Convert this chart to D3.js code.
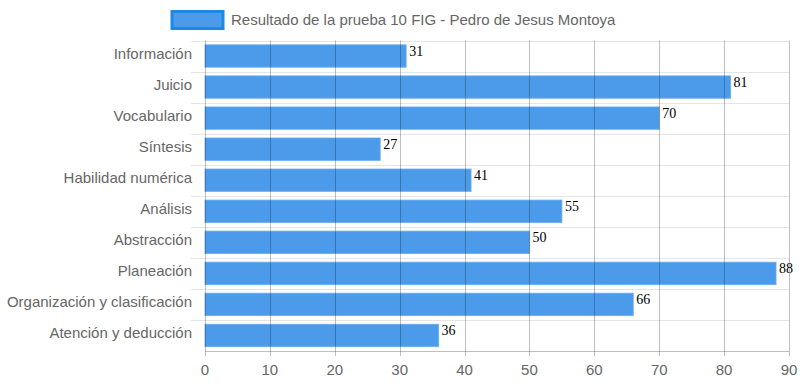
<!DOCTYPE html>
<html>
<head>
<meta charset="utf-8">
<script src="https://cdn.jsdelivr.net/npm/d3@7"></script>
<style>
  body { margin: 0; background: #fff; }
  svg { display: block; font-family: "Liberation Sans", Arial, Helvetica, sans-serif; }
</style>
</head>
<body>
<svg id="chart" width="800" height="386"></svg>
<script>
// values
const categories = ["Información", "Juicio", "Vocabulario", "Síntesis", "Habilidad numérica",
  "Análisis", "Abstracción", "Planeación", "Organización y clasificación", "Atención y deducción"];
const scores = [31, 81, 70, 27, 41, 55, 50, 88, 66, 36];
const xTicks = [0, 10, 20, 30, 40, 50, 60, 70, 80, 90];
const seriesName = "Resultado de la prueba 10 FIG - Pedro de Jesus Montoya";

const plotLeft = 205, plotRight = 789, plotTop = 40.5, plotBottom = 351;
const svg = d3.select("#chart");

const x = d3.scaleLinear().domain([0, 90]).range([plotLeft, plotRight]);
const y = d3.scaleBand().domain(categories).range([plotTop, plotBottom]);
const barH = y.bandwidth() * 0.72;

// horizontal grid (category boundaries)
const hLines = d3.range(categories.length).map(i => plotTop + i * y.step());
svg.append("g").selectAll("line")
  .data(hLines)
  .enter().append("line")
  .attr("x1", plotLeft - 14).attr("x2", plotRight)
  .attr("y1", d => Math.round(d) + 0.5).attr("y2", d => Math.round(d) + 0.5)
  .attr("stroke", "rgba(0,0,0,0.1)");

// bars
svg.append("g").selectAll("rect")
  .data(scores)
  .enter().append("rect")
  .attr("x", x(0))
  .attr("y", (d, i) => y(categories[i]) + (y.bandwidth() - barH) / 2)
  .attr("width", d => x(d) - x(0))
  .attr("height", barH)
  .attr("fill", "rgba(30,130,229,0.8)")
  .attr("stroke", "rgba(100,170,240,0.8)")
  .attr("stroke-width", 1);

// vertical grid
svg.append("g").selectAll("line")
  .data(xTicks)
  .enter().append("line")
  .attr("x1", d => Math.round(x(d)) + 0.5).attr("x2", d => Math.round(x(d)) + 0.5)
  .attr("y1", plotTop).attr("y2", plotBottom + 5)
  .attr("stroke", "rgba(0,0,0,0.25)");

// x axis line
svg.append("line")
  .attr("x1", plotLeft).attr("x2", plotRight)
  .attr("y1", plotBottom + 0.5).attr("y2", plotBottom + 0.5)
  .attr("stroke", "rgba(0,0,0,0.25)");

// x tick labels
svg.append("g").selectAll("text")
  .data(xTicks)
  .enter().append("text")
  .attr("x", d => x(d))
  .attr("y", 375)
  .attr("text-anchor", "middle")
  .attr("fill", "#666")
  .attr("font-size", 15)
  .text(d => d);

// category labels
svg.append("g").selectAll("text")
  .data(categories)
  .enter().append("text")
  .attr("x", 192)
  .attr("y", d => y(d) + y.bandwidth() / 2 + 3)
  .attr("text-anchor", "end")
  .attr("fill", "#666")
  .attr("font-size", 15)
  .text(d => d);

// value labels
svg.append("g").selectAll("text")
  .data(scores)
  .enter().append("text")
  .attr("x", d => x(d) + 3)
  .attr("y", (d, i) => y(categories[i]) + (y.bandwidth() - barH) / 2 + 11)
  .attr("fill", "#000")
  .attr("font-family", "'Liberation Serif', 'Times New Roman', serif")
  .attr("font-size", 14)
  .text(d => d);

// legend
const legend = svg.append("g");
legend.append("rect")
  .attr("x", 172).attr("y", 11.5).attr("width", 51).attr("height", 17)
  .attr("fill", "rgba(30,130,229,0.8)")
  .attr("stroke", "#1e88e5").attr("stroke-width", 3);
legend.append("text")
  .attr("x", 231).attr("y", 24.5)
  .attr("fill", "#666")
  .attr("font-size", 15)
  .text(seriesName);
</script>
</body>
</html>
